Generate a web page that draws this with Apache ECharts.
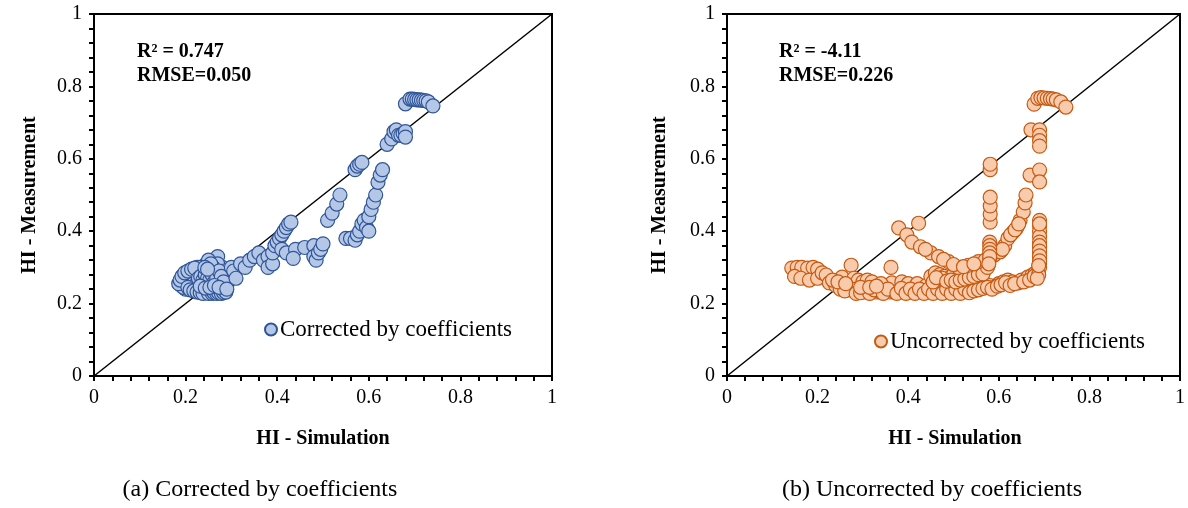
<!DOCTYPE html>
<html>
<head>
<meta charset="utf-8">
<script src="https://cdn.jsdelivr.net/npm/echarts@6/dist/echarts.min.js"></script>
<style>html,body{margin:0;padding:0;background:#fff}#c{width:1188px;height:508px}</style>
</head>
<body>
<div id="c"></div>
<script>
// ---- data ----
const axisTicks = [0, 0.2, 0.4, 0.6, 0.8, 1];
const seriesNames = ['Corrected by coefficients', 'Uncorrected by coefficients'];
const captions = ['(a) Corrected by coefficients', '(b) Uncorrected by coefficients'];
const statsCorrected = ['R² = 0.747', 'RMSE=0.050'];
const statsUncorrected = ['R² = -4.11', 'RMSE=0.226'];
const xTitle = 'HI - Simulation';
const yTitle = 'HI - Measurement';
const diagonal = [[0, 0], [1, 1]];

const correctedPoints = [
  [0.19,0.26],[0.19,0.25],[0.195,0.27],[0.2,0.28],[0.2,0.24],[0.205,0.26],[0.21,0.29],[0.21,0.25],
  [0.215,0.27],[0.22,0.28],[0.22,0.24],[0.225,0.3],[0.23,0.26],[0.23,0.235],[0.235,0.29],[0.24,0.27],
  [0.24,0.23],[0.245,0.31],[0.25,0.25],[0.25,0.28],[0.255,0.23],[0.26,0.32],[0.26,0.27],[0.265,0.29],
  [0.27,0.23],[0.27,0.33],[0.275,0.26],[0.28,0.3],[0.28,0.23],[0.285,0.27],[0.29,0.25],[0.295,0.28],
  [0.27,0.31],[0.25,0.3],[0.23,0.28],[0.21,0.27],[0.2,0.265],[0.24,0.25],[0.26,0.24],[0.22,0.26],
  [0.26,0.235],[0.28,0.25],[0.275,0.235],[0.265,0.235],[0.245,0.235],[0.235,0.24],[0.215,0.245],
  [0.25,0.26],[0.23,0.3],[0.24,0.29],[0.25,0.32],[0.26,0.3],[0.255,0.31],[0.27,0.28],[0.285,0.24],
  [0.2,0.255],[0.195,0.245],[0.21,0.26],[0.22,0.25],[0.285,0.29],[0.29,0.26],
  [0.185,0.255],[0.188,0.265],[0.192,0.275],[0.198,0.285],[0.205,0.29],[0.213,0.295],[0.22,0.298],
  [0.205,0.245],[0.21,0.238],[0.218,0.235],[0.225,0.232],[0.232,0.23],[0.238,0.228],[0.25,0.228],
  [0.258,0.228],[0.262,0.23],[0.268,0.228],[0.272,0.23],[0.278,0.228],[0.283,0.23],[0.288,0.232],
  [0.228,0.27],[0.233,0.275],[0.238,0.265],[0.243,0.28],[0.248,0.27],[0.253,0.265],[0.258,0.28],
  [0.263,0.26],[0.268,0.27],[0.273,0.29],[0.278,0.275],[0.283,0.26],[0.242,0.3],[0.248,0.295],
  [0.232,0.248],[0.243,0.243],[0.253,0.245],[0.263,0.25],[0.273,0.245],[0.29,0.24],
  [0.3,0.3],[0.305,0.29],[0.31,0.27],[0.32,0.31],[0.33,0.3],[0.34,0.32],[0.35,0.33],[0.36,0.34],
  [0.37,0.32],[0.38,0.33],[0.38,0.3],[0.39,0.31],[0.39,0.34],[0.395,0.36],[0.4,0.37],[0.405,0.38],
  [0.41,0.39],[0.415,0.4],[0.42,0.41],[0.425,0.42],[0.43,0.425],
  [0.41,0.35],[0.42,0.34],[0.44,0.35],[0.435,0.325],[0.46,0.355],[0.48,0.36],[0.48,0.33],[0.485,0.32],
  [0.49,0.34],[0.495,0.35],[0.5,0.365],[0.51,0.43],[0.52,0.45],[0.53,0.475],[0.537,0.5],
  [0.55,0.38],[0.56,0.38],[0.57,0.375],[0.575,0.39],[0.58,0.4],[0.585,0.42],[0.59,0.43],[0.595,0.41],
  [0.6,0.44],[0.6,0.4],[0.605,0.46],[0.61,0.48],[0.615,0.5],[0.62,0.535],[0.625,0.555],[0.63,0.57],
  [0.57,0.57],[0.575,0.58],[0.58,0.585],[0.585,0.59],
  [0.64,0.64],[0.65,0.655],[0.655,0.675],[0.66,0.68],[0.665,0.665],[0.67,0.665],[0.675,0.67],
  [0.68,0.675],[0.68,0.66],
  [0.68,0.752],[0.69,0.765],[0.695,0.765],[0.7,0.764],[0.705,0.763],[0.71,0.763],[0.715,0.762],
  [0.72,0.761],[0.725,0.76],[0.73,0.757],[0.74,0.746]
];

const uncorrectedPoints = [
  [0.143,0.298],[0.155,0.3],[0.165,0.3],[0.178,0.298],[0.19,0.3],[0.2,0.295],[0.149,0.275],[0.163,0.27],
  [0.182,0.265],[0.2,0.27],[0.21,0.285],[0.219,0.279],[0.226,0.257],[0.24,0.25],[0.254,0.273],[0.274,0.306],
  [0.28,0.27],[0.29,0.265],[0.3,0.26],[0.31,0.265],[0.32,0.26],[0.274,0.237],[0.285,0.24],[0.307,0.232],
  [0.329,0.232],[0.362,0.3],[0.364,0.257],[0.386,0.26],[0.4,0.255],[0.42,0.255],[0.44,0.25],[0.34,0.255],
  [0.25,0.24],[0.26,0.235],[0.34,0.232],[0.35,0.235],[0.36,0.232],[0.37,0.232],[0.38,0.235],[0.39,0.232],
  [0.4,0.232],[0.41,0.232],[0.42,0.235],[0.43,0.232],[0.44,0.232],[0.45,0.232],[0.46,0.235],[0.47,0.232],
  [0.48,0.232],[0.49,0.232],[0.5,0.235],[0.51,0.232],[0.52,0.232],[0.53,0.235],[0.54,0.24],[0.55,0.24],
  [0.56,0.245],[0.57,0.25],[0.58,0.25],[0.592,0.246],[0.6,0.255],[0.61,0.26],[0.62,0.265],[0.63,0.26],
  [0.643,0.257],[0.65,0.265],[0.664,0.273],[0.673,0.278],[0.68,0.284],[0.687,0.29],
  [0.285,0.228],[0.295,0.23],[0.315,0.228],[0.325,0.238],[0.345,0.228],[0.355,0.24],[0.375,0.228],
  [0.385,0.242],[0.395,0.228],[0.405,0.24],[0.415,0.228],[0.425,0.24],[0.435,0.228],[0.445,0.24],
  [0.455,0.228],[0.465,0.24],[0.475,0.228],[0.485,0.24],[0.495,0.228],[0.505,0.24],[0.515,0.228],
  [0.525,0.24],[0.535,0.23],[0.545,0.235],[0.555,0.238],[0.565,0.242],[0.575,0.245],[0.585,0.24],
  [0.597,0.248],[0.605,0.252],[0.615,0.258],[0.625,0.25],[0.635,0.255],[0.655,0.26],[0.668,0.265],
  [0.678,0.275],[0.233,0.265],[0.245,0.26],[0.262,0.255],[0.295,0.245],[0.315,0.245],[0.33,0.248],
  [0.45,0.275],[0.46,0.285],[0.47,0.28],[0.48,0.275],[0.49,0.27],[0.5,0.28],[0.51,0.27],[0.52,0.275],
  [0.53,0.28],[0.54,0.285],[0.55,0.29],[0.56,0.29],[0.57,0.295],[0.465,0.265],[0.475,0.27],
  [0.455,0.26],[0.462,0.272],[0.485,0.262],[0.495,0.265],[0.505,0.26],[0.515,0.265],[0.525,0.268],
  [0.535,0.272],[0.545,0.275],[0.555,0.28],[0.565,0.282],[0.575,0.3],
  [0.379,0.409],[0.423,0.422],[0.397,0.39],[0.408,0.37],[0.427,0.357],[0.45,0.34],[0.467,0.33],
  [0.489,0.316],[0.511,0.3],[0.533,0.306],[0.555,0.316],[0.57,0.32],[0.59,0.334],[0.603,0.343],
  [0.613,0.36],[0.62,0.38],[0.632,0.398],[0.64,0.41],[0.647,0.43],[0.654,0.453],[0.658,0.478],[0.66,0.5],
  [0.438,0.35],[0.478,0.322],[0.5,0.308],[0.522,0.302],[0.545,0.31],[0.58,0.325],[0.608,0.35],
  [0.626,0.39],[0.636,0.404],[0.644,0.42],
  [0.58,0.37],[0.58,0.36],[0.58,0.35],[0.58,0.34],[0.58,0.33],[0.578,0.31],
  [0.581,0.425],[0.581,0.447],[0.581,0.47],[0.581,0.494],[0.581,0.57],[0.581,0.585],
  [0.669,0.555],[0.69,0.569],[0.69,0.536],
  [0.671,0.68],[0.69,0.68],[0.69,0.665],[0.69,0.65],[0.69,0.635],
  [0.69,0.43],[0.69,0.415],[0.69,0.4],[0.69,0.385],[0.69,0.37],[0.69,0.355],[0.69,0.34],[0.69,0.325],
  [0.69,0.31],[0.69,0.3],[0.688,0.28],[0.685,0.27],[0.69,0.42],[0.69,0.36],[0.69,0.345],[0.69,0.332],
  [0.69,0.318],[0.688,0.305],
  [0.678,0.751],[0.686,0.767],[0.693,0.769],[0.7,0.768],[0.707,0.767],[0.714,0.766],[0.72,0.765],
  [0.727,0.763],[0.737,0.757],[0.748,0.743]
];

// ---- chart ----
const serif = '"Liberation Serif", "Times New Roman", serif';
const chart = echarts.init(document.getElementById('c'), null, {renderer: 'canvas'});

function axisBase(gridIndex) {
  return {
    type: 'value', gridIndex: gridIndex, min: axisTicks[0], max: axisTicks[axisTicks.length - 1],
    interval: axisTicks[1] - axisTicks[0],
    axisLine: {show: true, onZero: false, lineStyle: {color: '#000', width: 2}},
    axisTick: {show: true, inside: false, length: 5, lineStyle: {color: '#000', width: 2}},
    minorTick: {show: true, splitNumber: 5, length: 5, lineStyle: {color: '#000', width: 2}},
    splitLine: {show: false},
    axisLabel: {color: '#000', fontFamily: serif, fontSize: 20, margin: 12,
      formatter: v => String(+v.toFixed(1))}
  };
}

const grids = [
  {left: 94, top: 14, width: 458, height: 362},
  {left: 727, top: 14, width: 456, height: 362}
];

function statText(x, y, t) {
  return {type: 'text', left: x, top: y, style: {text: t, font: 'bold 20px ' + serif, fill: '#000'}};
}
function centerText(cx, cy, t, font, rot) {
  return {type: 'text', x: cx, y: cy, rotation: rot || 0,
    style: {text: t, font: font, fill: '#000', textAlign: 'center', textVerticalAlign: 'middle'}};
}

chart.setOption({
  animation: false,
  backgroundColor: '#fff',
  grid: grids.map(g => Object.assign({show: true, borderColor: '#000', borderWidth: 2, backgroundColor: 'transparent'}, g)),
  xAxis: [axisBase(0), axisBase(1)],
  yAxis: [axisBase(0), axisBase(1)],
  legend: [
    {data: [seriesNames[0]], left: 259, top: 313, itemWidth: 12, itemHeight: 12, itemGap: 4,
      textStyle: {fontFamily: serif, fontSize: 23, color: '#000', padding: [0,0,0,-2]}},
    {data: [seriesNames[1]], left: 869, top: 325, itemWidth: 12, itemHeight: 12, itemGap: 4,
      textStyle: {fontFamily: serif, fontSize: 23, color: '#000', padding: [0,0,0,-2]}}
  ],
  series: [
    {type: 'line', xAxisIndex: 0, yAxisIndex: 0, data: diagonal, symbol: 'none', silent: true,
      lineStyle: {color: '#000', width: 1.5}, z: 1},
    {type: 'line', xAxisIndex: 1, yAxisIndex: 1, data: diagonal, symbol: 'none', silent: true,
      lineStyle: {color: '#000', width: 1.5}, z: 1},
    {name: seriesNames[0], type: 'scatter', xAxisIndex: 0, yAxisIndex: 0, data: correctedPoints,
      symbol: 'circle', symbolSize: 14, z: 3,
      itemStyle: {color: '#B4C7E7', borderColor: '#2F5597', borderWidth: 1.2, opacity: 1}},
    {name: seriesNames[1], type: 'scatter', xAxisIndex: 1, yAxisIndex: 1, data: uncorrectedPoints,
      symbol: 'circle', symbolSize: 14, z: 3,
      itemStyle: {color: '#F8CBAD', borderColor: '#C55A11', borderWidth: 1.2, opacity: 1}}
  ],
  graphic: [
    statText(137, 42, statsCorrected[0]),
    statText(137, 66, statsCorrected[1]),
    statText(779, 42, statsUncorrected[0]),
    statText(779, 66, statsUncorrected[1]),
    centerText(323, 439, xTitle, 'bold 20px ' + serif),
    centerText(955, 439, xTitle, 'bold 20px ' + serif),
    centerText(30, 195, yTitle, 'bold 20px ' + serif, Math.PI / 2),
    centerText(660, 195, yTitle, 'bold 20px ' + serif, Math.PI / 2),
    centerText(260, 490, captions[0], '24px ' + serif),
    centerText(932, 490, captions[1], '24px ' + serif)
  ]
});
</script>
</body>
</html>
